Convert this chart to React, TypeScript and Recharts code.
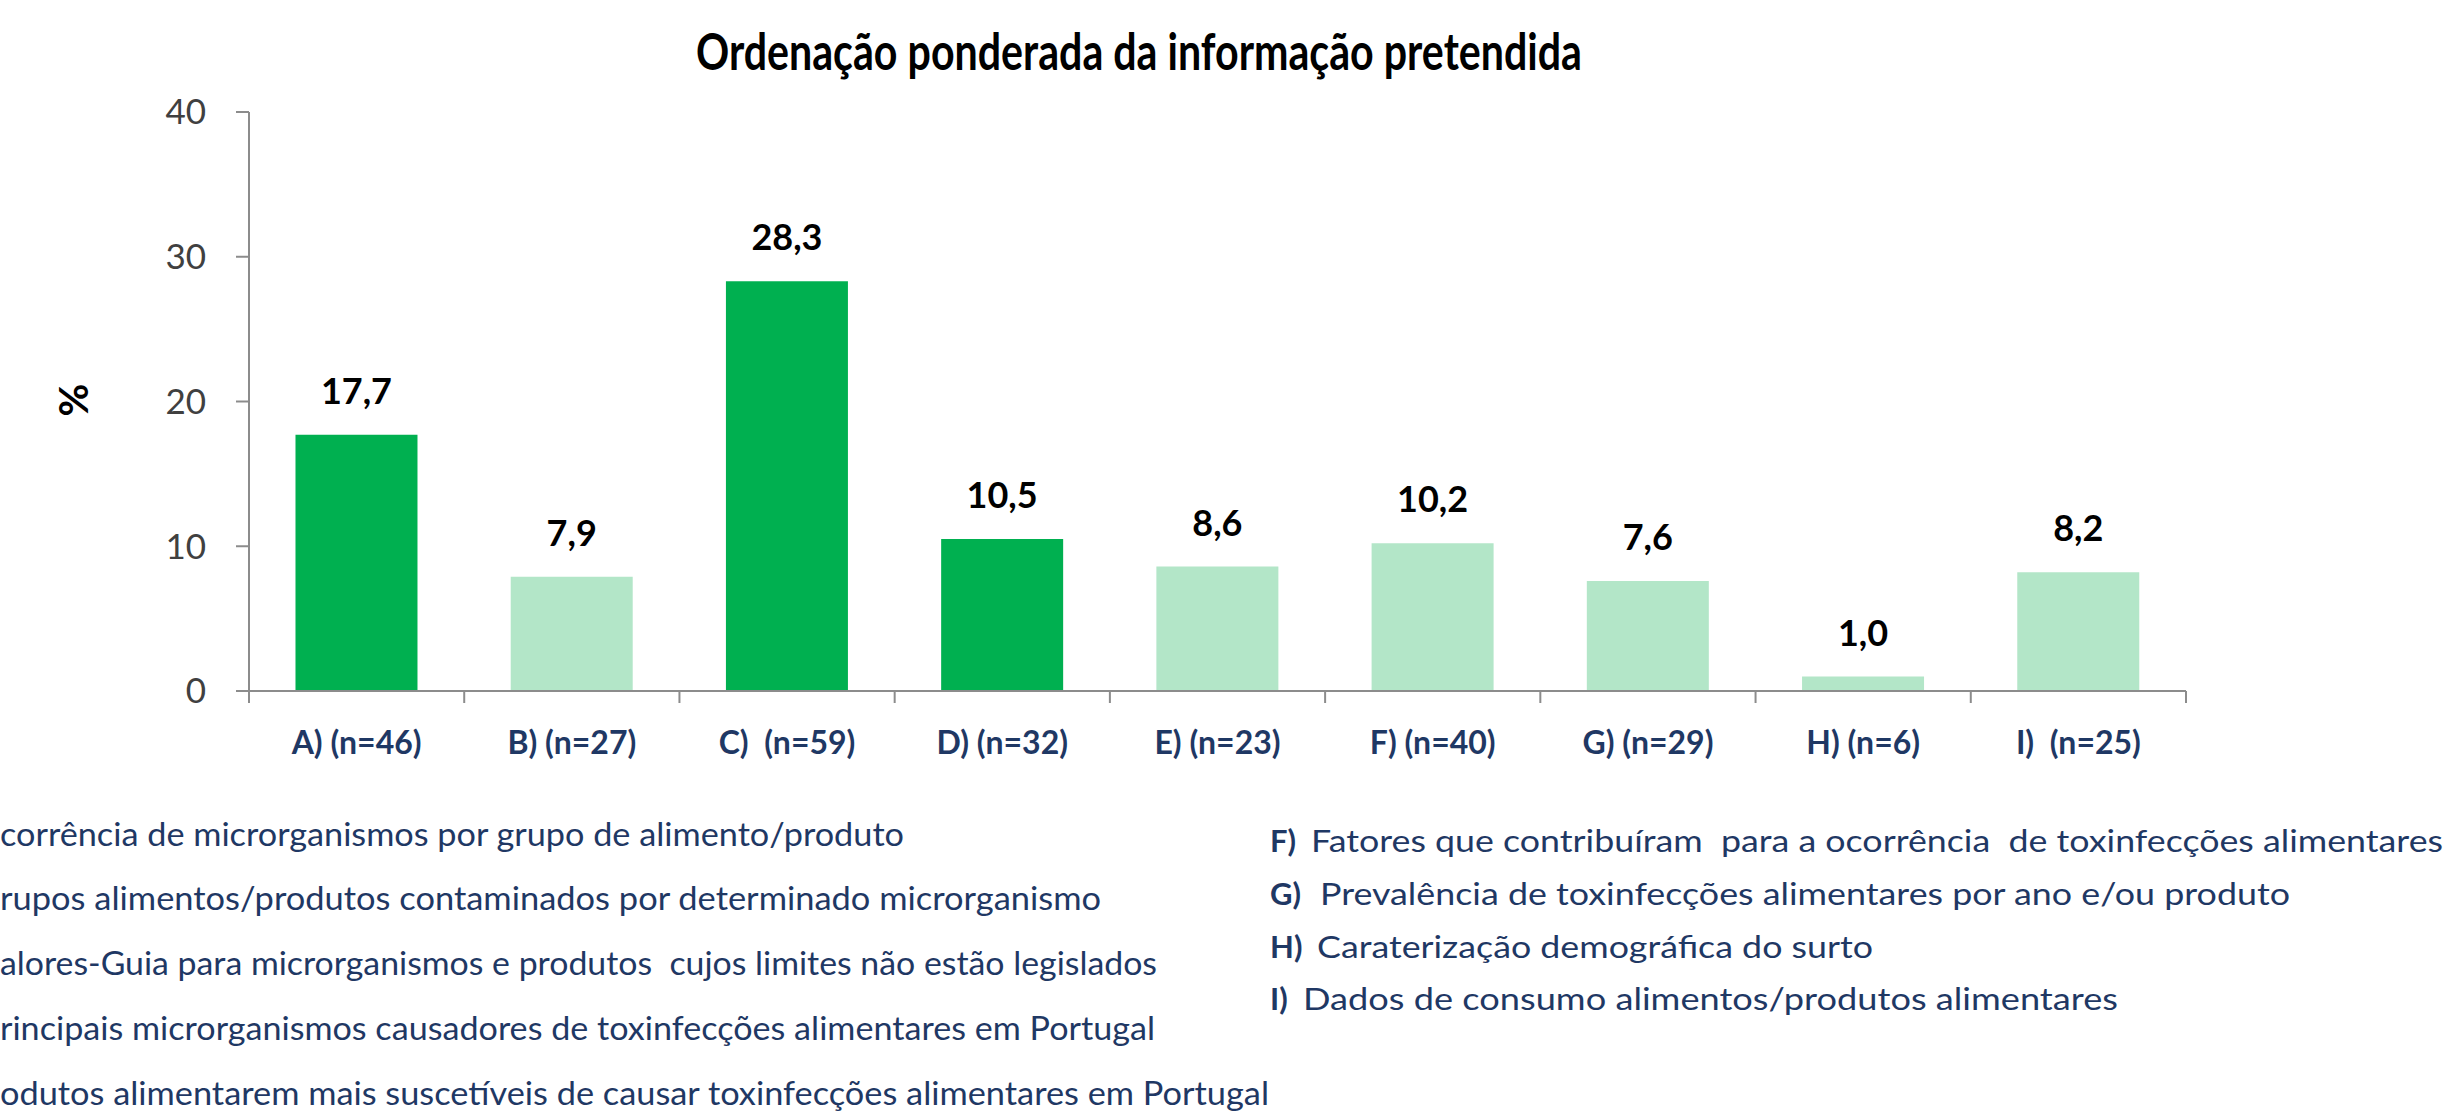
import React from 'react';
import { BarChart, Bar, XAxis, YAxis, Cell, LabelList } from 'recharts';

const categories = [
  'A) (n=46)',
  'B) (n=27)',
  'C)\u00A0 (n=59)',
  'D) (n=32)',
  'E) (n=23)',
  'F) (n=40)',
  'G) (n=29)',
  'H) (n=6)',
  'I)\u00A0 (n=25)',
];
const values = [17.7, 7.9, 28.3, 10.5, 8.6, 10.2, 7.6, 1.0, 8.2];
const highlighted = [true, false, true, true, false, false, false, false, false];
const yTicks = [0, 10, 20, 30, 40];
const title = 'Ordenação ponderada da informação pretendida';
const yAxisLabel = '%';
const legendLeft = [
  'corrência de microrganismos por grupo de alimento/produto',
  'rupos alimentos/produtos contaminados por determinado microrganismo',
  'alores-Guia para microrganismos e produtos  cujos limites não estão legislados',
  'rincipais microrganismos causadores de toxinfecções alimentares em Portugal',
  'odutos alimentarem mais suscetíveis de causar toxinfecções alimentares em Portugal',
];
const legendRightKeys = ['F)', 'G)', 'H)', 'I)'];
const legendRightTexts = [
  'Fatores que contribuíram  para a ocorrência  de toxinfecções alimentares',
  'Prevalência de toxinfecções alimentares por ano e/ou produto',
  'Caraterização demográfica do surto',
  'Dados de consumo alimentos/produtos alimentares',
];

const data = categories.map((name, i) => ({ name, value: values[i], hi: highlighted[i] }));

const DARK = '#00B050';
const LIGHT = '#B3E6C8';
const AXIS = '#8C8C8C';
const NAVY = '#1F3864';
const FONT = 'Lato, "Liberation Sans", sans-serif';

const X_TICK_MARGIN = 40;
const X_TICK_LEN = 12;

// layout (text only)
const leftBaselines = [846, 910, 975, 1040, 1105];
const leftLengths = [904, 1101, 1157, 1155, 1269];
const rightBaselines = [852, 905, 958, 1010];
const rightTextX = [1311, 1320, 1317, 1303];
const rightTextEnd = [2443, 2290, 1873, 2118];

const fmt = (v: any) => Number(v).toFixed(1).replace('.', ',');

function CategoryTick(props: any) {
  const { x, y, payload, index } = props;
  const half = payload && typeof payload.offset === 'number' && payload.offset > 0 ? payload.offset : 1937 / 18;
  const axisY = y - X_TICK_MARGIN;
  const isLast = index === categories.length - 1;
  return (
    <g>
      <line x1={x - half} x2={x - half} y1={axisY} y2={axisY + X_TICK_LEN} stroke={AXIS} strokeWidth={2} />
      {isLast && (
        <line x1={x + half} x2={x + half} y1={axisY} y2={axisY + X_TICK_LEN} stroke={AXIS} strokeWidth={2} />
      )}
      <text
        x={x}
        y={y}
        dy="0.71em"
        textAnchor="middle"
        fill={NAVY}
        fontSize={32}
        fontWeight={700}
        fontFamily={FONT}
      >
        {payload.value}
      </text>
    </g>
  );
}

export default function App() {
  return (
    <div style={{ position: 'absolute', left: 0, top: 0, width: 2449, height: 1113, background: '#fff' }}>
      <BarChart
        width={2449}
        height={1113}
        data={data}
        margin={{ top: 112, right: 263, left: 149, bottom: 362 }}
        barCategoryGap="21.6%"
      >
        <XAxis
          dataKey="name"
          interval={0}
          axisLine={{ stroke: AXIS, strokeWidth: 2 }}
          tickLine={false}
          tickSize={0}
          tickMargin={X_TICK_MARGIN}
          height={60}
          tick={<CategoryTick />}
        />
        <YAxis
          domain={[0, 40]}
          ticks={yTicks}
          width={100}
          tickSize={13}
          tickMargin={30}
          axisLine={{ stroke: AXIS, strokeWidth: 2 }}
          tickLine={{ stroke: AXIS, strokeWidth: 2 }}
          tick={{ fill: '#404040', fontSize: 35, fontFamily: FONT }}
        />
        <Bar dataKey="value" isAnimationActive={false}>
          {data.map((d, i) => (
            <Cell key={i} fill={d.hi ? DARK : LIGHT} />
          ))}
          <LabelList
            dataKey="value"
            position="top"
            offset={31}
            formatter={fmt}
            fill="#000"
            fontSize={36}
            fontWeight={700}
            fontFamily={FONT}
          />
        </Bar>
      </BarChart>
      <svg
        width={2449}
        height={1113}
        style={{ position: 'absolute', left: 0, top: 0, pointerEvents: 'none' }}
      >
        <text
          x={1139}
          y={70}
          textAnchor="middle"
          fontFamily={FONT}
          fontWeight={700}
          fontSize={51}
          fill="#000"
          textLength={886}
          lengthAdjust="spacingAndGlyphs"
        >
          {title}
        </text>
        <text
          x={73}
          y={400}
          transform="rotate(-90 73 400)"
          textAnchor="middle"
          dominantBaseline="central"
          fontFamily={FONT}
          fontWeight={700}
          fontSize={40}
          fill="#000"
        >
          {yAxisLabel}
        </text>
        {legendLeft.map((t, i) => (
          <text
            key={'l' + i}
            x={0}
            y={leftBaselines[i]}
            fontFamily={FONT}
            fontSize={32}
            fill={NAVY}
            textLength={leftLengths[i]}
            lengthAdjust="spacingAndGlyphs"
            style={{ whiteSpace: 'pre' }}
          >
            {t}
          </text>
        ))}
        {legendRightKeys.map((k, i) => (
          <g key={'r' + i}>
            <text x={1270} y={rightBaselines[i]} fontFamily={FONT} fontSize={31} fontWeight={700} fill={NAVY}>
              {k}
            </text>
            <text
              x={rightTextX[i]}
              y={rightBaselines[i]}
              fontFamily={FONT}
              fontSize={31}
              fill={NAVY}
              textLength={rightTextEnd[i] - rightTextX[i]}
              lengthAdjust="spacingAndGlyphs"
              style={{ whiteSpace: 'pre' }}
            >
              {legendRightTexts[i]}
            </text>
          </g>
        ))}
      </svg>
    </div>
  );
}
